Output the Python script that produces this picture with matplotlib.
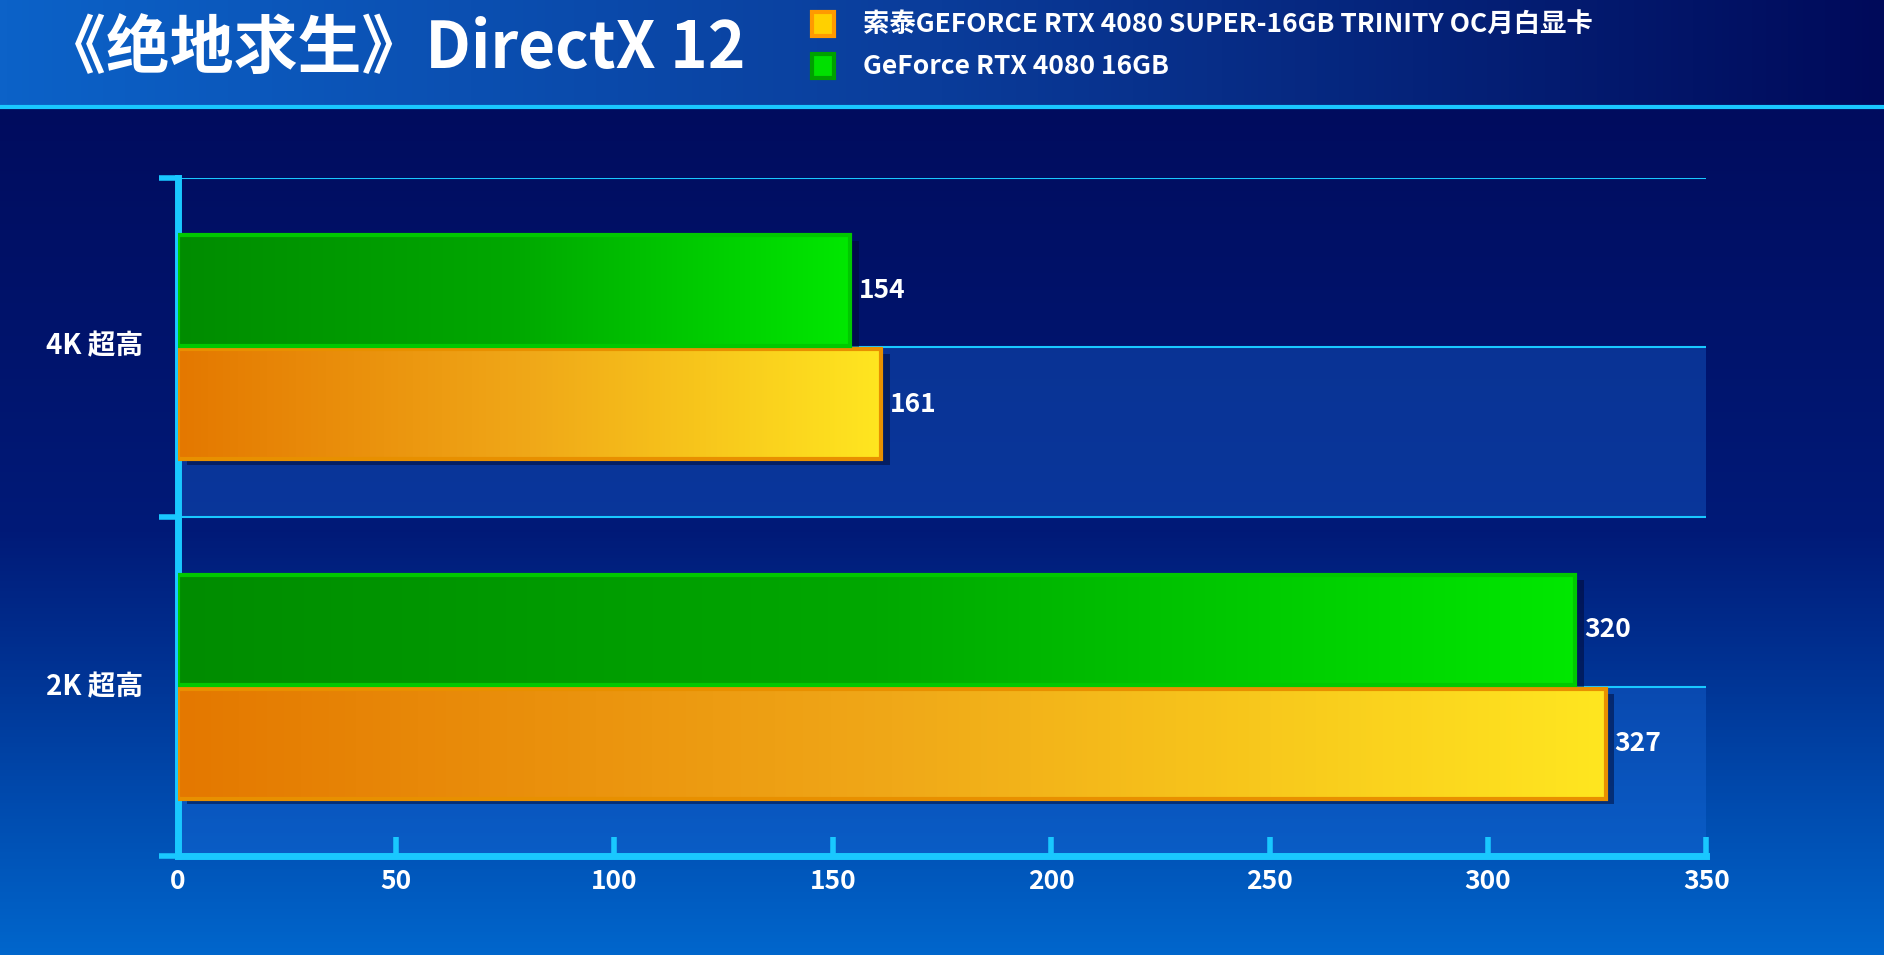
import numpy as np
import matplotlib.pyplot as plt
from matplotlib import font_manager
from matplotlib.colors import LinearSegmentedColormap

# pick whatever CJK family is actually registered
cjk_names = sorted({f.name for f in font_manager.fontManager.ttflist if 'CJK' in f.name})
cjk = [n for n in cjk_names if 'SC' in n] or cjk_names
plt.rcParams['font.family'] = (cjk[:1] if cjk else []) + ['DejaVu Sans']
plt.rcParams['font.weight'] = 'bold'

# data
categories = ['2K 超高', '4K 超高']
series_names = ['索泰GEFORCE RTX 4080 SUPER-16GB TRINITY OC月白显卡', 'GeForce RTX 4080 16GB']
zotac_values = [327, 161]
ref_values = [320, 154]
x_ticks = [0, 50, 100, 150, 200, 250, 300, 350]
title = '《绝地求生》DirectX 12'

W, H = 1568, 795  # layout reference space


def fx(x):
    return x / W


def fy(y):
    return 1 - y / H


fig = plt.figure(figsize=(18.84, 9.55), dpi=100)

# background
bg = fig.add_axes([0, 0, 1, 1])
bg.set_xlim(0, 1)
bg.set_ylim(0, 1)
bg.axis('off')
body_cmap = LinearSegmentedColormap.from_list('body', ['#0066cc', '#001a78', '#000c5e'])
bg.imshow(np.linspace(0, 1, 256).reshape(-1, 1), cmap=body_cmap, aspect='auto',
          extent=[0, 1, 0, fy(90)], origin='lower')
head_cmap = LinearSegmentedColormap.from_list('head', ['#0c62c8', '#0a3c9a', '#000a5a'])
bg.imshow(np.linspace(0, 1, 256).reshape(1, -1), cmap=head_cmap, aspect='auto',
          extent=[0, 1, fy(88), 1])
bg.axhline(fy(89), color='#19c8ff', lw=3)

ax = fig.add_axes([fx(148), fy(713), fx(1420) - fx(148), fy(148) - fy(713)])
ax.set_facecolor('none')

# lighter bands
for y0 in [0, 2]:
    ax.axhspan(y0, y0 + 1, color='#1a6ee0', alpha=0.35, lw=0)
for y in [1, 2, 3, 4]:
    ax.axhline(y, color='#19c8ff', lw=1.5)

orange_cmap = LinearSegmentedColormap.from_list('or', ['#e47800', '#f0a818', '#ffe620'])
green_cmap = LinearSegmentedColormap.from_list('gr', ['#008c00', '#00a800', '#00e800'])
grad = np.linspace(0, 1, 256).reshape(1, -1)
bh = 0.65
for i in range(len(categories)):
    base = i * 2
    for val, yc, cmap, ec in [(zotac_values[i], base + 0.665, orange_cmap, '#e89000'),
                              (ref_values[i], base + 1.335, green_cmap, '#00c800')]:
        ax.barh(yc - 0.03, val, height=bh, left=2, color='#000830', alpha=0.5, zorder=2)
        ax.imshow(grad, cmap=cmap, aspect='auto', zorder=3,
                  extent=[0, val, yc - bh / 2, yc + bh / 2])
        ax.barh(yc, val, height=bh, fill=False, edgecolor=ec, lw=3, zorder=4)
        ax.text(val + 2, yc, str(val), color='white', fontsize=19, va='center',
                ha='left', fontweight='bold', zorder=5)
ax.set_xlim(0, 350)
ax.set_ylim(0, 4)

for s in ['top', 'right']:
    ax.spines[s].set_visible(False)
for s in ['left', 'bottom']:
    ax.spines[s].set_color('#19c8ff')
    ax.spines[s].set_linewidth(5)
ax.set_xticks(x_ticks)
ax.set_xticklabels([str(t) for t in x_ticks], color='white', fontsize=19)
ax.tick_params(axis='x', colors='#19c8ff', width=4, length=14, direction='in', pad=8, labelcolor='white')
ax.set_yticks([0, 2, 4])
ax.set_yticklabels([])
ax.tick_params(axis='y', colors='#19c8ff', width=4, length=14, direction='out')
for i, c in enumerate(categories):
    fig.text(fx(79), fy(572 - 284 * i), c, color='white', fontsize=20, ha='center', va='center')

fig.text(fx(35), fy(42), title, color='white', fontsize=46, ha='left', va='center', fontweight='bold')
legend_colors = [('#ff9a00', '#ffd000'), ('#00a000', '#00e000')]
for i, (name, (c1, c2)) in enumerate(zip(series_names, legend_colors)):
    yy = 20 + 35 * i
    bg.add_patch(plt.Rectangle((fx(676), fy(yy + 10)), fx(18), fy(yy - 10) - fy(yy + 10),
                               facecolor=c2, edgecolor=c1, lw=3))
    fig.text(fx(718), fy(yy), name, color='white', fontsize=19, ha='left', va='center')

fig.savefig('out.png', dpi=100)
